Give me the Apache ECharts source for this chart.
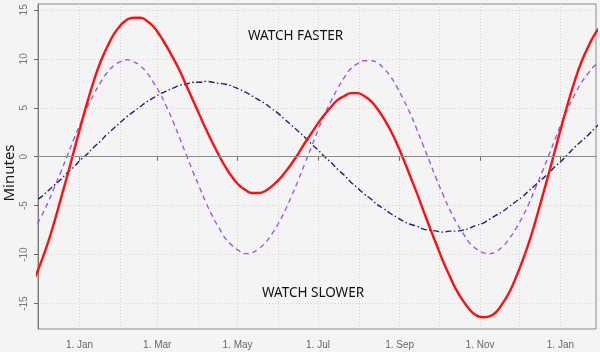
<!DOCTYPE html>
<html>
<head>
<meta charset="utf-8">
<script src="https://cdn.jsdelivr.net/npm/echarts@6/dist/echarts.min.js"></script>
<style>
    html, body { margin: 0; padding: 0; background: #f4f4f4; }
    #chart { width: 600px; height: 352px; }
</style>
</head>
<body>
<div id="chart"></div>
<script>
// samples every 5 days, starting 23 Nov 2022
const firstDate = '2022-11-23';
const stepDays = 5;

// total (red, solid)
const totalValues = [
    -13.9, -12.4, -10.7, -8.8, -6.6, -4.2, -1.8, 0.7,
    3.2, 5.6, 7.8, 9.7, 11.2, 12.5, 13.4, 14.0, 14.2, 14.2, 13.9, 13.3,
    12.4, 11.3, 10.1, 8.8, 7.3, 5.8, 4.3, 2.8, 1.4, 0.1, -1.1, -2.1,
    -2.9, -3.4, -3.7, -3.7, -3.5, -3.0, -2.4, -1.6, -0.7, 0.3, 1.4, 2.4,
    3.4, 4.3, 5.1, 5.8, 6.2, 6.5, 6.5, 6.2, 5.7, 4.9, 3.9, 2.7,
    1.3, -0.3, -2.0, -3.7, -5.5, -7.3, -9.0, -10.7, -12.2, -13.6, -14.7, -15.6,
    -16.2, -16.4, -16.3, -15.9, -15.0, -13.9, -12.4, -10.7, -8.8, -6.6, -4.2, -1.8,
    0.7, 3.2, 5.6, 7.8, 9.7, 11.2, 12.5, 13.4];

// obliquity part (purple, dashed)
const obliquityValues = [
    -8.4, -7.3, -6.1, -4.7, -3.1, -1.5, 0.2, 1.9,
    3.5, 5.1, 6.4, 7.6, 8.6, 9.3, 9.7, 9.9, 9.7, 9.3, 8.6, 7.6,
    6.5, 5.1, 3.6, 1.9, 0.2, -1.5, -3.1, -4.7, -6.1, -7.3, -8.4, -9.1,
    -9.6, -9.9, -9.8, -9.4, -8.8, -7.9, -6.8, -5.5, -4.0, -2.4, -0.7, 1.0,
    2.7, 4.3, 5.7, 7.0, 8.1, 9.0, 9.5, 9.8, 9.8, 9.6, 9.0, 8.2,
    7.1, 5.8, 4.4, 2.8, 1.1, -0.6, -2.3, -3.9, -5.4, -6.7, -7.8, -8.8,
    -9.4, -9.8, -9.9, -9.7, -9.2, -8.4, -7.4, -6.2, -4.8, -3.2, -1.6, 0.1,
    1.8, 3.5, 5.0, 6.4, 7.6, 8.5, 9.3, 9.7];

// eccentricity part (dark blue, dash-dot)
const eccentricityValues = [
    -5.1, -4.6, -4.1, -3.5, -2.9, -2.3, -1.6, -1.0,
    -0.3, 0.3, 1.0, 1.6, 2.3, 2.9, 3.5, 4.1, 4.6, 5.1, 5.6, 6.0,
    6.4, 6.7, 7.0, 7.3, 7.4, 7.6, 7.6, 7.7, 7.6, 7.5, 7.4, 7.2,
    6.9, 6.6, 6.2, 5.8, 5.4, 4.9, 4.4, 3.8, 3.2, 2.6, 2.0, 1.3,
    0.7, 0.0, -0.6, -1.3, -1.9, -2.6, -3.2, -3.8, -4.3, -4.9, -5.3, -5.8,
    -6.2, -6.6, -6.9, -7.1, -7.4, -7.5, -7.6, -7.7, -7.6, -7.6, -7.5, -7.3,
    -7.0, -6.8, -6.4, -6.0, -5.6, -5.1, -4.6, -4.1, -3.5, -2.9, -2.3, -1.7,
    -1.0, -0.4, 0.3, 1.0, 1.6, 2.2, 2.9, 3.5];

// axis ticks
const yTicks = [-15, -10, -5, 0, 5, 10, 15];
const xLabelDates = ['2023-01-01', '2023-03-01', '2023-05-01', '2023-07-01', '2023-09-01', '2023-11-01', '2024-01-01'];
const xGridDates = ['2022-12-01', '2023-01-01', '2023-02-01', '2023-03-01', '2023-04-01', '2023-05-01', '2023-06-01',
    '2023-07-01', '2023-08-01', '2023-09-01', '2023-10-01', '2023-11-01', '2023-12-01', '2024-01-01'];
const monthNames = ['Jan', 'Feb', 'Mar', 'Apr', 'May', 'Jun', 'Jul', 'Aug', 'Sep', 'Oct', 'Nov', 'Dec'];

const xMin = Date.UTC(2022, 10, 30, 12);
const xMax = Date.UTC(2024, 0, 28);

const DAY = 86400000;
const toPairs = (vals) => vals.map((v, i) => [Date.parse(firstDate) + i * stepDays * DAY, v]);

const chart = echarts.init(document.getElementById('chart'));

const option = {
    backgroundColor: '#f4f4f4',
    animation: false,
    grid: {
        left: 38,
        right: 4,
        top: 4,
        bottom: 23,
        outerBoundsMode: 'none',
        show: true,
        borderColor: '#8c8c8c',
        borderWidth: 1,
    },
    xAxis: [
        {
            // timestamps on a plain value axis, so the ticks can be placed by hand
            type: 'value',
            min: xMin,
            max: xMax,
            position: 'bottom',
            axisLine: { lineStyle: { color: '#7a7a7a', width: 1 } },
            axisTick: {
                length: 4,
                lineStyle: { color: '#666' },
                customValues: xLabelDates.map(d => Date.parse(d)),
            },
            axisLabel: {
                customValues: xLabelDates.map(d => Date.parse(d)),
                formatter: (v) => '1. ' + monthNames[new Date(v).getUTCMonth()],
                color: '#666',
                fontSize: 10,
                fontFamily: 'Liberation Sans',
                margin: 11,
            },
            splitLine: { show: false },
        },
        {
            // only the monthly grid lines
            type: 'value',
            min: xMin,
            max: xMax,
            position: 'top',
            axisLine: { show: false },
            axisTick: { show: false, customValues: xGridDates.map(d => Date.parse(d)) },
            axisLabel: { show: false },
            splitLine: {
                show: true,
                lineStyle: { color: '#d2d2d2', type: [1, 2], width: 1 },
            },
        },
    ],
    yAxis: {
        type: 'value',
        min: -17.6,
        max: 15.6,
        axisLine: { show: true, lineStyle: { color: '#7a7a7a', width: 1 } },
        axisTick: { show: true, length: 4, lineStyle: { color: '#666' }, customValues: yTicks },
        axisLabel: {
            customValues: yTicks,
            rotate: 90,
            color: '#777',
            fontSize: 10,
            fontFamily: 'Liberation Sans',
            margin: 9,
        },
        splitLine: {
            show: true,
            lineStyle: { color: '#d2d2d2', type: [1, 2], width: 1 },
        },
    },
    graphic: [
        {
            // y axis title, sits a little below the middle in the original
            type: 'text',
            x: 10,
            y: 173,
            rotation: Math.PI / 2,
            style: {
                text: 'Minutes',
                align: 'center',
                verticalAlign: 'middle',
                fontSize: 15,
                fill: '#1a1a1a',
                fontFamily: 'Noto Sans',
            },
        },
        {
            type: 'text',
            left: 248,
            top: 29,
            style: { text: 'WATCH FASTER', fontSize: 13.5, fill: '#111', fontFamily: 'Noto Sans' },
        },
        {
            type: 'text',
            left: 262,
            top: 286,
            style: { text: 'WATCH SLOWER', fontSize: 13.5, fill: '#111', fontFamily: 'Noto Sans' },
        },
    ],
    series: [
        {
            name: 'eccentricity',
            type: 'line',
            smooth: true,
            showSymbol: false,
            data: toPairs(eccentricityValues),
            lineStyle: { color: '#1f1f7a', width: 1.4, type: [6, 2.5, 1.5, 2.5] },
            markLine: {
                silent: true,
                symbol: 'none',
                label: { show: false },
                lineStyle: { color: '#8c8c8c', type: 'solid', width: 1 },
                data: [{ yAxis: 0 }],
            },
            z: 2,
        },
        {
            name: 'obliquity',
            type: 'line',
            smooth: true,
            showSymbol: false,
            data: toPairs(obliquityValues),
            lineStyle: { color: '#a653f0', width: 1.4, type: [5, 4] },
            z: 3,
        },
        {
            name: 'total',
            type: 'line',
            smooth: true,
            showSymbol: false,
            data: toPairs(totalValues),
            lineStyle: { color: '#ff1010', width: 2.4 },
            z: 4,
        },
    ],
};

chart.setOption(option);
</script>
</body>
</html>
